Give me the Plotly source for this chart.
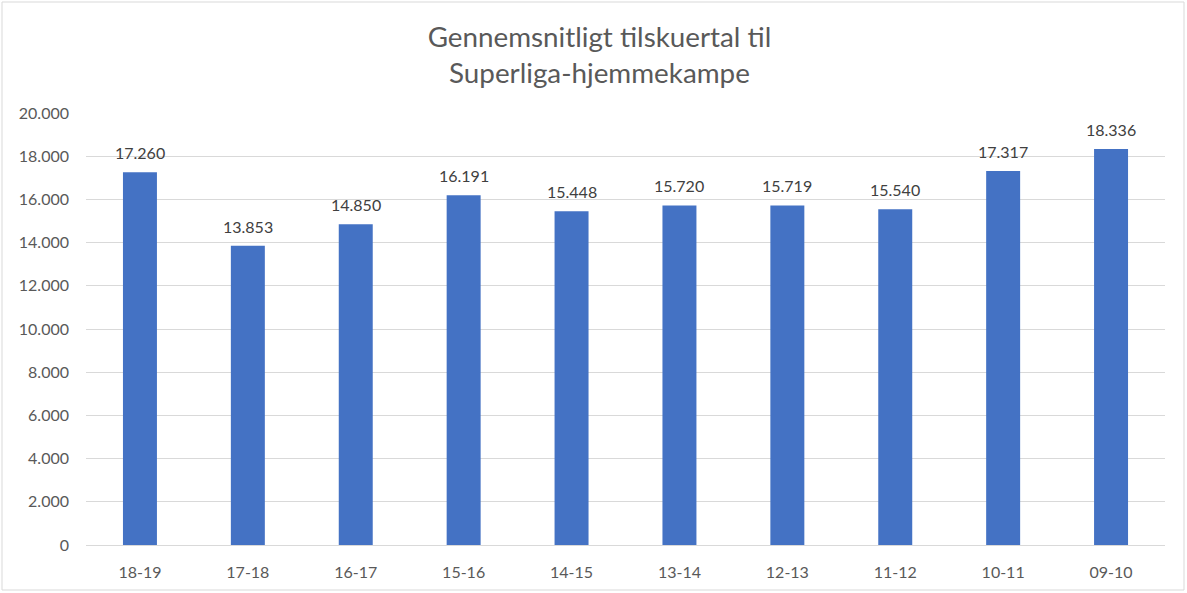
import plotly.graph_objects as go

seasons = ["18-19", "17-18", "16-17", "15-16", "14-15", "13-14", "12-13", "11-12", "10-11", "09-10"]
attendance = [17260, 13853, 14850, 16191, 15448, 15720, 15719, 15540, 17317, 18336]
y_ticks = [0, 2000, 4000, 6000, 8000, 10000, 12000, 14000, 16000, 18000, 20000]

W, H = 1187, 593
ml, mr, mt, mb = 86, 22, 113, 48
pw, ph = W - ml - mr, H - mt - mb
FONT = "Lato, Open Sans, sans-serif"

fig = go.Figure()
fig.add_trace(go.Bar(
    x=seasons, y=attendance,
    marker=dict(color="#4472C4", line=dict(width=0)),
    hoverinfo="x+y",
))

for s, v in zip(seasons, attendance):
    fig.add_annotation(
        x=s, y=v, xref="x", yref="y",
        text=f"{v:,}".replace(",", "."),
        showarrow=False, yanchor="bottom", yshift=8,
        font=dict(size=16, color="#404040", family=FONT),
    )

fig.update_layout(
    width=W, height=H,
    margin=dict(l=ml, r=mr, t=mt, b=mb),
    separators=",.",
    paper_bgcolor="white", plot_bgcolor="white",
    bargap=0.685,
    showlegend=False,
    font=dict(family=FONT, color="#595959"),
    title=dict(
        text="Gennemsnitligt tilskuertal til<br>Superliga-hjemmekampe",
        x=0.505, xanchor="center", y=0.921, yanchor="top",
        font=dict(size=27.8, color="#595959", family=FONT),
    ),
    xaxis=dict(
        type="category",
        showgrid=False, showline=True, linecolor="#D9D9D9", linewidth=1,
        tickfont=dict(size=16, color="#595959"), ticks="",
        ticklabelstandoff=13,
    ),
    yaxis=dict(
        range=[0, 20000], tickvals=y_ticks, tickformat=",d",
        showgrid=True, gridcolor="#D9D9D9", gridwidth=1,
        zeroline=False, showline=False, ticks="",
        tickfont=dict(size=16, color="#595959"),
        ticklabelstandoff=16,
    ),
    shapes=[dict(
        type="rect", xref="paper", yref="paper",
        x0=(2 - ml) / pw, x1=(1184 - ml) / pw,
        y0=(H - mb - 590) / ph, y1=(H - mb - 2) / ph,
        line=dict(color="#D9D9D9", width=1), fillcolor="rgba(0,0,0,0)", layer="below",
    )],
)

fig.write_html(
    "out.html",
    config={"displayModeBar": False},
    post_script="document.body.style.margin='0';document.body.style.overflow='hidden';",
)
